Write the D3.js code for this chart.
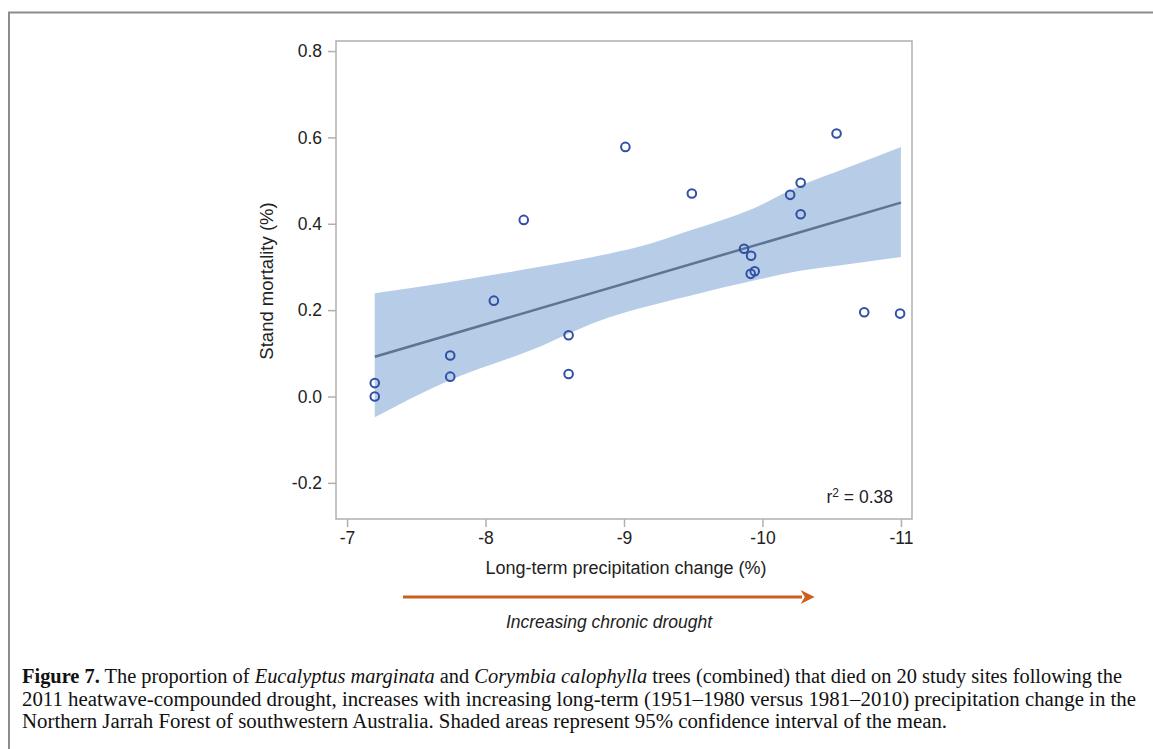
<!DOCTYPE html>
<html>
<head>
<meta charset="utf-8">
<script src="https://cdn.jsdelivr.net/npm/d3@7"></script>
<style>
    body { margin: 0; background: #fff; }
    svg { display: block; }
</style>
</head>
<body>
<svg id="chart"></svg>
<script>
// sites: long-term precipitation change (%) vs stand mortality
const precipChange = [-7.2, -7.2, -7.745, -7.745, -8.06, -8.276, -8.6, -8.6, -9.01, -9.49,
    -9.867, -9.918, -9.915, -9.944, -10.2, -10.276, -10.276, -10.535, -10.735, -10.994];
const mortality = [0.031, 0.0, 0.095, 0.046, 0.222, 0.409, 0.142, 0.052, 0.578, 0.47,
    0.342, 0.326, 0.284, 0.29, 0.467, 0.495, 0.422, 0.609, 0.195, 0.192];

// fitted line and 95% CI band
const fitX = [-7.2, -11.0];
const fitY = [0.092, 0.449];
const bandX = [-7.2, -7.7, -8.35, -8.82, -9.1, -9.47, -9.93, -10.27, -10.63, -11.0];
const bandUpper = [0.239, 0.263, 0.298, 0.326, 0.346, 0.384, 0.435, 0.488, 0.532, 0.578];
const bandLower = [-0.048, 0.032, 0.11, 0.175, 0.203, 0.233, 0.268, 0.291, 0.307, 0.323];

const xTicks = [-7, -8, -9, -10, -11];
const yTicks = [-0.2, 0.0, 0.2, 0.4, 0.6, 0.8];

const width = 1153,
    height = 749;
const plotLeft = 336, plotRight = 912, plotTop = 41, plotBottom = 519;

const svg = d3.select("#chart").attr("width", width).attr("height", height);

// outer figure border
svg.append("path")
    .attr("d", `M9,${height} V12.5 H${width}`)
    .attr("fill", "none")
    .attr("stroke", "#8c8c8c")
    .attr("stroke-width", 2);

const xScale = d3.scaleLinear().domain([-6.92, -11.08]).range([plotLeft, plotRight]);
const yScale = d3.scaleLinear().domain([-0.2837, 0.8233]).range([plotBottom, plotTop]);

// CI band
const band = bandX.map((x, i) => ({ x, lo: bandLower[i], hi: bandUpper[i] }));
svg.append("path")
    .datum(band)
    .attr("fill", "#b7cce6")
    .attr("d", d3.area()
        .x((d) => xScale(d.x))
        .y0((d) => yScale(d.lo))
        .y1((d) => yScale(d.hi))
        .curve(d3.curveMonotoneX));

// regression line
svg.append("path")
    .datum(fitX.map((x, i) => [x, fitY[i]]))
    .attr("fill", "none")
    .attr("stroke", "#5b7593")
    .attr("stroke-width", 2.5)
    .attr("d", d3.line()
        .x((d) => xScale(d[0]))
        .y((d) => yScale(d[1])));

// points
svg.selectAll("circle.dot")
    .data(precipChange.map((x, i) => [x, mortality[i]]))
    .enter()
    .append("circle")
    .attr("class", "dot")
    .attr("cx", (d) => xScale(d[0]))
    .attr("cy", (d) => yScale(d[1]))
    .attr("r", 4.3)
    .attr("fill", "none")
    .attr("stroke", "#2f50a6")
    .attr("stroke-width", 2);

// frame
svg.append("rect")
    .attr("x", plotLeft)
    .attr("y", plotTop)
    .attr("width", plotRight - plotLeft)
    .attr("height", plotBottom - plotTop)
    .attr("fill", "none")
    .attr("stroke", "#b0b0b0")
    .attr("stroke-width", 1.5);

const sans = "'Liberation Sans', Arial, sans-serif";

const styleAxis = (g) => {
    g.select(".domain").remove();
    g.selectAll(".tick line").attr("stroke", "#b0b0b0").attr("stroke-width", 1.5);
    g.selectAll(".tick text")
        .attr("fill", "#222")
        .style("font-family", sans)
        .style("font-size", "17.5px");
};

svg.append("g")
    .attr("transform", `translate(${plotLeft},0)`)
    .call(d3.axisLeft(yScale).tickValues(yTicks).tickFormat((d) => d.toFixed(1)).tickSize(8).tickPadding(6))
    .call(styleAxis);

svg.append("g")
    .attr("transform", `translate(0,${plotBottom})`)
    .call(d3.axisBottom(xScale).tickValues(xTicks).tickFormat((d) => String(d)).tickSize(8).tickPadding(5))
    .call(styleAxis);

svg.append("text")
    .attr("transform", "translate(268,281) rotate(-90)")
    .attr("text-anchor", "middle")
    .attr("dominant-baseline", "middle")
    .style("font-family", sans)
    .style("font-size", "18.5px")
    .attr("fill", "#222")
    .text("Stand mortality (%)");

svg.append("text")
    .attr("x", 626)
    .attr("y", 574)
    .attr("text-anchor", "middle")
    .style("font-family", sans)
    .style("font-size", "18px")
    .attr("fill", "#222")
    .text("Long-term precipitation change (%)");

svg.append("text")
    .attr("x", 893)
    .attr("y", 503)
    .attr("text-anchor", "end")
    .style("font-family", sans)
    .style("font-size", "17.5px")
    .attr("fill", "#222")
    .html('r<tspan dy="-6" font-size="12px">2</tspan><tspan dy="6"> = 0.38</tspan>');

// drought arrow
svg.append("defs").append("marker")
    .attr("id", "head")
    .attr("viewBox", "0 0 10 10")
    .attr("refX", 1)
    .attr("refY", 5)
    .attr("markerUnits", "userSpaceOnUse")
    .attr("markerWidth", 18)
    .attr("markerHeight", 14)
    .attr("orient", "auto")
    .append("path")
    .attr("d", "M0,0 L10,5 L0,10 L3,5 Z")
    .attr("fill", "#cc5f1e");

svg.append("line")
    .attr("x1", 403)
    .attr("x2", 802)
    .attr("y1", 597)
    .attr("y2", 597)
    .attr("stroke", "#cc5f1e")
    .attr("stroke-width", 3)
    .attr("marker-end", "url(#head)");

svg.append("text")
    .attr("x", 609)
    .attr("y", 628)
    .attr("text-anchor", "middle")
    .style("font-family", sans)
    .style("font-size", "17.5px")
    .style("font-style", "italic")
    .attr("fill", "#222")
    .text("Increasing chronic drought");

// caption
const serif = "'Liberation Serif', 'Times New Roman', serif";
const captionLines = [
    { y: 683, len: 1100, parts: [
        ["Figure 7.", "bold"], [" The proportion of ", ""], ["Eucalyptus marginata", "italic"],
        [" and ", ""], ["Corymbia calophylla", "italic"],
        [" trees (combined) that died on 20 study sites following the", ""]] },
    { y: 705.5, len: 1114, parts: [
        ["2011 heatwave-compounded drought, increases with increasing long-term (1951–1980 versus 1981–2010) precipitation change in the", ""]] },
    { y: 727.5, len: 925, parts: [
        ["Northern Jarrah Forest of southwestern Australia. Shaded areas represent 95% confidence interval of the mean.", ""]] },
];

captionLines.forEach((line) => {
    const t = svg.append("text")
        .attr("x", 22)
        .attr("y", line.y)
        .attr("textLength", line.len)
        .attr("lengthAdjust", "spacingAndGlyphs")
        .style("font-family", serif)
        .style("font-size", "20.5px")
        .attr("fill", "#111")
        .attr("xml:space", "preserve");
    line.parts.forEach(([s, st]) => {
        t.append("tspan")
            .style("font-weight", st === "bold" ? "bold" : "normal")
            .style("font-style", st === "italic" ? "italic" : "normal")
            .text(s);
    });
});
</script>
</body>
</html>
